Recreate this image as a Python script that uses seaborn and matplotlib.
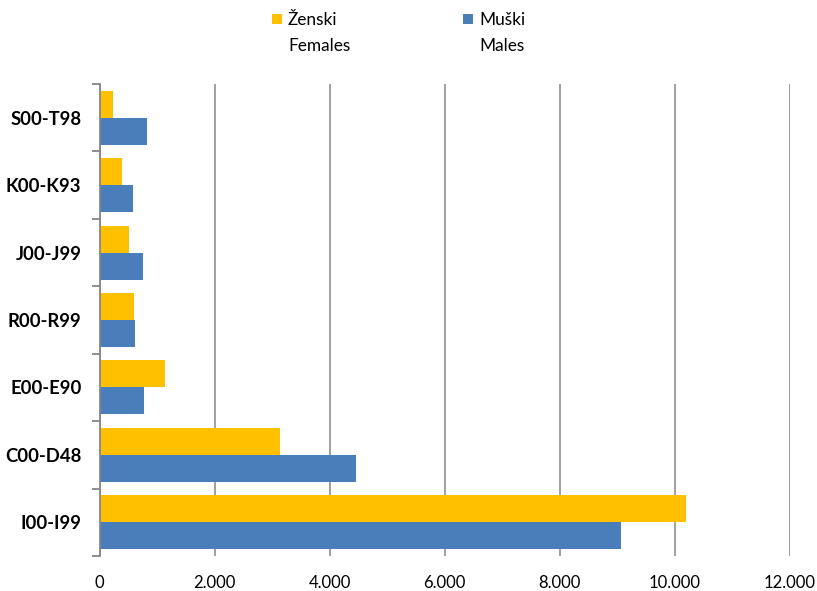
import matplotlib
matplotlib.use("Agg")
import matplotlib.pyplot as plt
from matplotlib.patches import Rectangle
from matplotlib.ticker import FuncFormatter, FixedLocator
import seaborn as sns
import pandas as pd

# Deaths by cause (ICD-10 chapter groups), by sex
categories = ["S00-T98", "K00-K93", "J00-J99", "R00-R99", "E00-E90", "C00-D48", "I00-I99"]
females = [230, 386, 513, 600, 1139, 3139, 10186]
males = [831, 583, 751, 612, 780, 4456, 9056]
series_names = ["Ženski", "Muški"]
series_names_en = ["Females", "Males"]
series_colors = ["#FFC000", "#4A7EBB"]
x_ticks = [0, 2000, 4000, 6000, 8000, 10000, 12000]

df = pd.DataFrame({
    "cause": categories * 2,
    "deaths": females + males,
    "sex": [series_names[0]] * len(categories) + [series_names[1]] * len(categories),
})

sns.set_theme(style="white")
plt.rcParams["font.family"] = ["Lato", "DejaVu Sans"]

fig = plt.figure(figsize=(8.17, 5.91), dpi=100)
ax = fig.add_axes([99.5 / 817, 1 - 556 / 591, (790 - 99.5) / 817, (556 - 84) / 591])

sns.barplot(
    data=df, y="cause", x="deaths", hue="sex", order=categories,
    hue_order=series_names, palette=series_colors, orient="h",
    width=0.8, saturation=1, linewidth=0, legend=False, ax=ax,
)

grid_color = "#868686"
ax.set_xlim(0, 12000)
ax.set_ylim(len(categories) - 0.5, -0.5)
ax.xaxis.set_major_locator(FixedLocator(x_ticks))
ax.xaxis.set_major_formatter(FuncFormatter(lambda v, p: f"{int(v):,}".replace(",", ".")))
ax.grid(axis="x", color=grid_color, linewidth=1.1)
ax.grid(axis="y", visible=False)
ax.set_axisbelow(True)

for side in ["top", "right", "bottom"]:
    ax.spines[side].set_visible(False)
ax.spines["left"].set_color(grid_color)
ax.spines["left"].set_linewidth(1.3)

# category boundary ticks on the left axis
ax.yaxis.set_minor_locator(FixedLocator([i - 0.5 for i in range(len(categories) + 1)]))
ax.tick_params(axis="y", which="minor", left=True, length=6, width=1.3, color=grid_color)
ax.tick_params(axis="y", which="major", left=False, length=0, pad=13,
               labelsize=13.3, labelcolor="black")
for lbl in ax.get_yticklabels():
    lbl.set_fontweight("bold")
ax.tick_params(axis="x", which="major", bottom=False, length=0, pad=13.5,
               labelsize=12, labelcolor="black")
ax.set_xlabel("")
ax.set_ylabel("")

# legend: swatch aligned with the first line of each two-line label
W, H = 817, 591
legend_x = [272, 463]
for name, name_en, color, lx in zip(series_names, series_names_en, series_colors, legend_x):
    fig.add_artist(Rectangle((lx / W, 1 - 24 / H), 9.5 / W, 9.5 / H,
                             transform=fig.transFigure, color=color, lw=0))
    fig.text((lx + 16) / W, 1 - 25 / H, name, ha="left", va="baseline",
             fontsize=12.4, color="black")
    fig.text((lx + 16) / W, 1 - 51 / H, name_en, ha="left", va="baseline",
             fontsize=12.4, color="black")

fig.savefig("out.png", dpi=100)
